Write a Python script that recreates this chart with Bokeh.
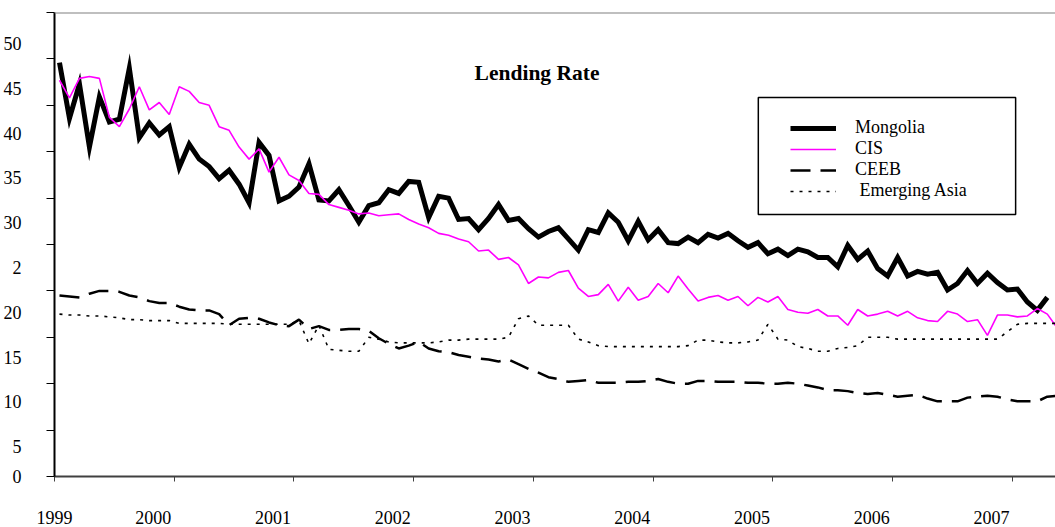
from bokeh.plotting import figure
from bokeh.models import (FixedTicker, Span, Label, Legend, LegendItem, Range1d,
                          BoxAnnotation, NumeralTickFormatter)
from bokeh.embed import file_html
from bokeh.resources import INLINE

# ---- data (monthly, Jan 1999 onward) ----
start_year = 1999
year_ticks = [1999, 2000, 2001, 2002, 2003, 2004, 2005, 2006, 2007]
value_ticks = [0, 5, 10, 15, 20, 25, 30, 35, 40, 45, 50]
value_tick_labels = {0: "0", 25: "2"}

mongolia = [44.6, 38.6, 42.3, 35.5, 40.9, 38.2, 38.5, 44.0, 36.5, 38.1, 36.8, 37.7,
            33.3, 35.8, 34.2, 33.4, 32.1, 33.0, 31.5, 29.5, 36.0, 34.6, 29.7, 30.2,
            31.2, 33.7, 29.8, 29.7, 30.9, 29.2, 27.4, 29.2, 29.5, 30.9, 30.5, 31.8,
            31.7, 27.9, 30.2, 30.0, 27.7, 27.8, 26.6, 27.8, 29.3, 27.6, 27.8, 26.7,
            25.8, 26.4, 26.8, 25.6, 24.4, 26.6, 26.3, 28.4, 27.4, 25.4, 27.5, 25.5,
            26.6, 25.2, 25.1, 25.8, 25.2, 26.1, 25.7, 26.2, 25.4, 24.7, 25.2, 24.0,
            24.5, 23.8, 24.5, 24.2, 23.6, 23.6, 22.6, 24.9, 23.4, 24.3, 22.4, 21.6,
            23.6, 21.6, 22.1, 21.8, 22.0, 20.1, 20.8, 22.2, 20.8, 21.9, 20.9, 20.1,
            20.2, 18.8, 17.9, 19.3]

cis = [42.7, 40.8, 42.9, 43.1, 42.9, 38.7, 37.7, 39.6, 42.0, 39.5, 40.3, 39.0,
       42.0, 41.5, 40.3, 40.0, 37.7, 37.3, 35.5, 34.2, 35.3, 32.8, 34.4, 32.5,
       31.9, 30.5, 30.4, 29.3, 29.0, 28.7, 28.3, 28.4, 28.1, 28.2, 28.3, 27.7,
       27.2, 26.8, 26.2, 26.0, 25.6, 25.3, 24.3, 24.4, 23.4, 23.6, 22.8, 20.8,
       21.5, 21.4, 22.0, 22.2, 20.3, 19.4, 19.6, 20.7, 18.9, 20.4, 19.0, 19.4,
       20.8, 19.8, 21.6, 20.2, 18.9, 19.3, 19.5, 19.0, 19.4, 18.4, 19.3, 18.8,
       19.4, 18.0, 17.7, 17.6, 18.0, 17.3, 17.3, 16.3, 18.0, 17.3, 17.5, 17.8,
       17.3, 17.8, 17.1, 16.8, 16.7, 17.8, 17.5, 16.7, 16.9, 15.2, 17.4, 17.4,
       17.2, 17.3, 18.1, 17.5, 16.0]

ceeb = [19.5, 19.4, 19.3, 19.7, 20.0, 20.0, 19.9, 19.5, 19.3, 18.9, 18.7, 18.7,
        18.3, 18.0, 17.9, 17.9, 17.5, 16.3, 17.0, 17.1, 17.0, 16.6, 16.3, 16.2,
        16.9, 15.9, 16.2, 15.8, 15.8, 15.9, 15.9, 15.7, 14.9, 14.3, 13.8, 14.1,
        14.5, 13.8, 13.5, 13.4, 13.1, 12.9, 12.7, 12.6, 12.4, 12.6, 12.1, 11.6,
        11.2, 10.7, 10.5, 10.2, 10.3, 10.4, 10.1, 10.1, 10.1, 10.2, 10.2, 10.3,
        10.5, 10.2, 10.0, 10.0, 10.3, 10.3, 10.2, 10.2, 10.2, 10.1, 10.1, 10.0,
        10.0, 10.1, 10.0, 9.8, 9.6, 9.3, 9.3, 9.2, 9.0, 8.9, 9.0, 8.8,
        8.6, 8.7, 8.8, 8.4, 8.1, 8.1, 8.1, 8.5, 8.6, 8.7, 8.6, 8.3,
        8.1, 8.1, 8.1, 8.6, 8.7]

emerging_asia = [17.5, 17.4, 17.4, 17.3, 17.3, 17.2, 17.1, 16.9, 16.9, 16.8, 16.8, 16.8,
                 16.5, 16.5, 16.5, 16.5, 16.5, 16.4, 16.4, 16.4, 16.4, 16.4, 16.4, 16.4,
                 16.8, 14.3, 16.3, 13.7, 13.6, 13.5, 13.5, 15.0, 14.8, 14.5, 14.4, 14.4,
                 14.4, 14.4, 14.5, 14.7, 14.7, 14.8, 14.8, 14.8, 14.8, 15.0, 17.0, 17.3,
                 16.3, 16.3, 16.3, 16.3, 14.8, 14.5, 14.1, 14.0, 14.0, 14.0, 14.0, 14.0,
                 14.0, 14.0, 14.0, 14.1, 14.7, 14.7, 14.5, 14.4, 14.4, 14.5, 14.7, 16.4,
                 14.8, 14.7, 14.0, 13.8, 13.5, 13.5, 13.8, 13.9, 14.1, 15.0, 15.0, 15.0,
                 14.8, 14.8, 14.8, 14.8, 14.8, 14.8, 14.8, 14.8, 14.8, 14.8, 14.8, 15.6,
                 16.4, 16.5, 16.5, 16.5, 16.5]


def month_x(series):
    return [start_year + (i + 0.5) / 12 for i in range(len(series))]


FONT = "Liberation Serif"

X0, X1 = 1999, 2007.36
Y0, Y1 = 0, 50
FRAME_H = 464

p = figure(width=1055, height=527, output_backend="svg", toolbar_location=None,
           x_range=Range1d(X0, X1), y_range=Range1d(Y0, Y1),
           min_border_left=51, min_border_right=0, min_border_top=12, min_border_bottom=51,
           background_fill_color="white", border_fill_color="white")
p.outline_line_color = None
p.xgrid.visible = False
p.ygrid.visible = False

# In the original, the tick-label layer sits shifted (and slightly scaled) against the
# plot area; the axes use auxiliary ranges so labels land where the original shows them,
# while the tick marks stay on the plot's own tick values.
x_shift = 21 / 120.1                      # years: labels sit 21px left of their ticks
p.extra_x_ranges = {"xlab": Range1d(X0 + x_shift, X1 + x_shift)}
lab_px = 8.96                             # px per unit of the label layer
lab_off = 15                              # px: "0" label sits below the zero tick
plot_px = FRAME_H / (Y1 - Y0)
ylab_start = lab_off / lab_px
p.extra_y_ranges = {"ylab": Range1d(ylab_start, (lab_off + FRAME_H) / lab_px)}

r_mn = p.line(month_x(mongolia), mongolia, line_color="black", line_width=5, line_join="miter")
r_cis = p.line(month_x(cis), cis, line_color="#FF00FF", line_width=1.6)
r_ceeb = p.line(month_x(ceeb), ceeb, line_color="black", line_width=2.5, line_dash="20 10")
r_ea = p.line(month_x(emerging_asia), emerging_asia, line_color="black", line_width=1.6,
              line_dash="3 6")

# ---- x axis ----
xa = p.xaxis[0]
xa.x_range_name = "xlab"
xa.ticker = FixedTicker(ticks=[X0 + x_shift] + year_ticks[1:],
                        minor_ticks=[y + x_shift for y in year_ticks])
xa.formatter = NumeralTickFormatter(format="0")
xa.major_tick_out = 0
xa.major_tick_in = 0
xa.major_tick_line_color = None
xa.minor_tick_out = 5
xa.minor_tick_in = 0
xa.minor_tick_line_color = "#404040"
xa.minor_tick_line_width = 1
xa.axis_line_color = "#404040"
xa.axis_line_width = 2
xa.major_label_text_font = FONT
xa.major_label_text_font_size = "18px"
xa.major_label_text_color = "black"
xa.major_label_standoff = 29

# ---- y axis ----
ya = p.yaxis[0]
ya.y_range_name = "ylab"
ya.ticker = FixedTicker(ticks=[ylab_start] + value_ticks[1:],
                        minor_ticks=[(lab_off + plot_px * v) / lab_px for v in value_ticks])
ya.formatter = NumeralTickFormatter(format="0")
ya.major_label_overrides = {ylab_start: value_tick_labels[0], 25: value_tick_labels[25]}
ya.major_tick_out = 0
ya.major_tick_in = 0
ya.major_tick_line_color = None
ya.minor_tick_out = 8
ya.minor_tick_in = 0
ya.minor_tick_line_color = "black"
ya.minor_tick_line_width = 1
ya.axis_line_color = "black"
ya.axis_line_width = 2
ya.major_label_text_font = FONT
ya.major_label_text_font_size = "18px"
ya.major_label_text_color = "black"
ya.major_label_standoff = 25

p.add_layout(Span(location=Y1, dimension="width", line_color="#808080", line_width=2))

p.add_layout(Label(x=2003.03, y=43.5, text="Lending Rate", text_font=FONT,
                   text_font_style="bold", text_font_size="21.5px", text_color="black",
                   text_align="center", text_baseline="middle"))

# legend frame
p.add_layout(BoxAnnotation(left=2004.878, right=2007.027, top=40.84, bottom=28.23,
                           fill_alpha=0, line_color="black", line_width=1.5, line_alpha=1))

legend = Legend(items=[
    LegendItem(label="Mongolia", renderers=[r_mn]),
    LegendItem(label="CIS", renderers=[r_cis]),
    LegendItem(label="CEEB", renderers=[r_ceeb]),
    LegendItem(label=" Emerging Asia", renderers=[r_ea]),
], location=(736, 275))
legend.border_line_color = None
legend.background_fill_alpha = 0
legend.padding = 20
legend.spacing = 0
legend.margin = 0
legend.label_height = 20
legend.glyph_height = 20
legend.glyph_width = 46
legend.label_standoff = 19
legend.label_width = 123
legend.label_text_font = FONT
legend.label_text_font_size = "18px"
legend.label_text_color = "black"
p.add_layout(legend)

open("out.html", "w").write(file_html(p, INLINE))
